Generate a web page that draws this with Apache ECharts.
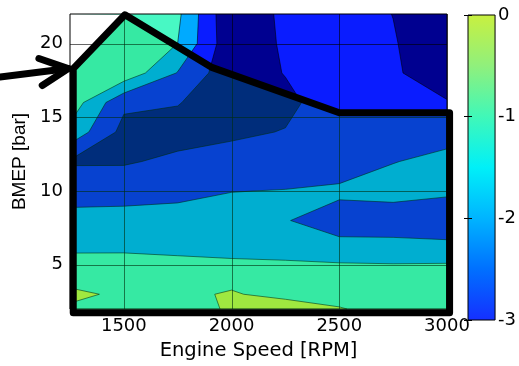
<!DOCTYPE html>
<html>
<head>
<meta charset="utf-8">
<script src="https://cdn.jsdelivr.net/npm/echarts@6/dist/echarts.min.js"></script>
<style>
  html, body { margin: 0; padding: 0; background: #fff; }
  #chart { width: 519px; height: 366px; }
</style>
</head>
<body>
<div id="chart"></div>
<script>
// Measurement grid: engine speed columns and BMEP rows
const rpmGrid  = [1250, 1500, 1750, 2000, 2250, 2500, 2750, 3000];
const bmepGrid = [2, 3, 4, 6, 8, 10, 12, 14, 16, 18, 20, 22];

// Mapped quantity at each speed column, one value per BMEP row
const z1250 = [-0.20,  0.30, -0.40, -1.07, -1.69, -2.39, -3.10, -1.30, -0.40, -0.40, -0.30, -0.30];
const z1500 = [-0.35, -0.25, -0.45, -1.06, -1.68, -2.34, -3.10, -3.30, -2.80, -0.30, -0.30, -0.30];
const z1750 = [-0.55, -0.22, -0.50, -1.12, -1.66, -2.23, -2.80, -3.37, -2.95, -2.05, -1.005, -0.80];
const z2000 = [ 0.15,  0.10, -0.257, -1.30, -1.576, -2.02, -2.55, -3.20, -3.60, -3.70, -3.75, -3.90];
const z2250 = [ 0.67, -0.346, -0.55, -1.24, -1.95, -1.97, -2.50, -2.95, -3.30, -2.95, -2.85, -2.75];
const z2500 = [ 0.05, -0.30, -0.20, -1.615, -2.47, -1.80, -2.60, -2.60, -2.30, -2.40, -2.40, -2.40];
const z2750 = [-0.30, -0.35, -0.20, -1.70, -2.40, -1.75, -2.02, -2.50, -2.60, -2.80, -2.90, -3.02];
const z3000 = [-0.35, -0.40, -0.15, -1.70, -2.56, -1.86, -1.85, -2.20, -2.90, -3.89, -3.99, -4.00];

// Contour levels and the fill colour of each band (lowest band first)
const contourLevels = [-3, -2, -1, 0];
const bandColors = ['#000090', '#0a1cff', '#00aaff', '#48f8c4', '#d2f642'];

// Axis tick labels
const xTickLabels = [1500, 2000, 2500, 3000];
const yTickLabels = [5, 10, 15, 20];

// Colour bar
const cbarTicks  = [-3, -2, -1, 0];
const cbarStops  = [-3, -2.5, -2, -1.5, -1, -0.5, 0];
const cbarColors = ['#1530ff', '#0070ff', '#00b4ff', '#00f0f8', '#40f8b8', '#90f07c', '#c8f040'];

// Full-load limit line (engine speed, BMEP)
const limitRpm  = [1265, 1265, 1505, 1905, 2500, 3012, 3012];
const limitBmep = [1.75, 18.3, 21.95, 18.4, 15.3, 15.3, 1.75];

const zColumns = [z1250, z1500, z1750, z2000, z2250, z2500, z2750, z3000];

// Part of a grid cell where the value is >= t (edges linearly interpolated)
function clipCell(pts, vals, t) {
  const out = [];
  for (let k = 0; k < 4; k++) {
    const n = (k + 1) % 4;
    const inA = vals[k] >= t, inB = vals[n] >= t;
    if (inA) out.push({ p: pts[k], kind: 'corner' });
    if (inA !== inB) {
      const f = (t - vals[k]) / (vals[n] - vals[k]);
      out.push({
        p: [pts[k][0] + f * (pts[n][0] - pts[k][0]), pts[k][1] + f * (pts[n][1] - pts[k][1])],
        kind: inA ? 'exit' : 'entry'
      });
    }
  }
  return out;
}

const fmt = v => v.toFixed(2);

function renderContours(params, api) {
  const P = (x, y) => api.coord([x, y]);
  const children = [];
  const nx = rpmGrid.length, ny = bmepGrid.length;
  const a = P(rpmGrid[0], bmepGrid[0]);
  const b = P(rpmGrid[nx - 1], bmepGrid[ny - 1]);
  children.push({
    type: 'rect',
    shape: { x: a[0], y: b[1], width: b[0] - a[0], height: a[1] - b[1] },
    style: { fill: bandColors[0] }
  });
  let lines = '';
  contourLevels.forEach((t, li) => {
    let d = '';
    for (let i = 0; i < nx - 1; i++) {
      for (let j = 0; j < ny - 1; j++) {
        const pts = [
          P(rpmGrid[i], bmepGrid[j]), P(rpmGrid[i + 1], bmepGrid[j]),
          P(rpmGrid[i + 1], bmepGrid[j + 1]), P(rpmGrid[i], bmepGrid[j + 1])
        ];
        const vals = [zColumns[i][j], zColumns[i + 1][j], zColumns[i + 1][j + 1], zColumns[i][j + 1]];
        const poly = clipCell(pts, vals, t);
        if (poly.length >= 3) {
          d += 'M' + poly.map(q => fmt(q.p[0]) + ' ' + fmt(q.p[1])).join('L') + 'Z';
        }
        for (let m = 0; m < poly.length; m++) {
          if (poly[m].kind === 'exit') {
            const q = poly[(m + 1) % poly.length];
            lines += 'M' + fmt(poly[m].p[0]) + ' ' + fmt(poly[m].p[1]) + 'L' + fmt(q.p[0]) + ' ' + fmt(q.p[1]);
          }
        }
      }
    }
    if (d) children.push({ type: 'path', shape: { pathData: d }, style: { fill: bandColors[li + 1] } });
  });
  if (lines) {
    children.push({ type: 'path', shape: { pathData: lines },
      style: { fill: null, stroke: 'rgba(0,0,0,0.7)', lineWidth: 0.8 } });
  }
  // no data above the full-load line on the low-speed side
  const v1 = P(limitRpm[1], limitBmep[1]), v2 = P(limitRpm[2], limitBmep[2]);
  children.push({
    type: 'polygon',
    shape: { points: [P(rpmGrid[0], bmepGrid[ny - 1]), P(rpmGrid[0], limitBmep[1]), v1, v2] },
    style: { fill: '#ffffff' }
  });
  return { type: 'group', children };
}

function renderGridLines(params, api) {
  const P = (x, y) => api.coord([x, y]);
  const y0 = bmepGrid[0], y1 = bmepGrid[bmepGrid.length - 1];
  const x0 = rpmGrid[0], x1 = rpmGrid[rpmGrid.length - 1];
  const children = [];
  xTickLabels.forEach(v => {
    const p = P(v, y0), q = P(v, y1);
    children.push({ type: 'line', shape: { x1: Math.round(p[0]) + 0.5, y1: p[1], x2: Math.round(q[0]) + 0.5, y2: q[1] },
      style: { stroke: 'rgba(0,0,0,0.6)', lineWidth: 1 } });
  });
  yTickLabels.forEach(v => {
    const p = P(x0, v), q = P(x1, v);
    children.push({ type: 'line', shape: { x1: p[0], y1: Math.round(p[1]) + 0.5, x2: q[0], y2: Math.round(q[1]) + 0.5 },
      style: { stroke: 'rgba(0,0,0,0.6)', lineWidth: 1 } });
  });
  return { type: 'group', children };
}

function renderLimit(params, api) {
  const pts = limitRpm.map((r, k) => api.coord([r, limitBmep[k]]));
  const children = [];
  children.push({ type: 'polygon', shape: { points: pts },
    style: { fill: 'rgba(0,187,59,0.24)', stroke: null } });
  children.push({ type: 'polygon', shape: { points: pts },
    style: { fill: null, stroke: '#000', lineWidth: 7, lineJoin: 'round' } });
  // arrow pointing at the start of the full-load line
  const tip = [pts[1][0] - 5, pts[1][1]];
  const ang = -7 * Math.PI / 180;
  const len = tip[0] / Math.cos(ang);
  const tail = [tip[0] - len * Math.cos(ang), tip[1] - len * Math.sin(ang)];
  const back = Math.PI + ang;
  const armLen = 31, spread = 26 * Math.PI / 180;
  const armA = [tip[0] + armLen * Math.cos(back + spread), tip[1] + armLen * Math.sin(back + spread)];
  const armB = [tip[0] + armLen * Math.cos(back - spread), tip[1] + armLen * Math.sin(back - spread)];
  const arrowStyle = { fill: null, stroke: '#000', lineWidth: 7, lineCap: 'round', lineJoin: 'round' };
  children.push({ type: 'polyline', shape: { points: [tail, tip] }, style: arrowStyle });
  children.push({ type: 'polyline', shape: { points: [armA, tip, armB] }, style: arrowStyle });
  return { type: 'group', children };
}

function renderColorbar(params, api) {
  const top = api.coord([0, 0]);
  const bot = api.coord([1, -3]);
  const stops = cbarStops.map((v, k) => ({ offset: (0 - v) / 3, color: cbarColors[k] }))
    .sort((p, q) => p.offset - q.offset);
  return {
    type: 'rect',
    shape: { x: top[0], y: top[1], width: bot[0] - top[0], height: bot[1] - top[1] },
    style: { fill: new echarts.graphic.LinearGradient(0, 0, 0, 1, stops) }
  };
}

const tickFont = { fontFamily: 'DejaVu Sans', fontSize: 18, color: '#000' };

const chart = echarts.init(document.getElementById('chart'), null, { renderer: 'canvas' });
chart.setOption({
  animation: false,
  backgroundColor: '#fff',
  grid: [
    { left: 70, right: 72, top: 14, bottom: 48, show: true, borderColor: '#000', borderWidth: 1, z: 4 },
    { left: 468, top: 15, width: 28, height: 305, show: true, borderColor: '#000', borderWidth: 1, z: 4 }
  ],
  xAxis: [
    {
      type: 'value', gridIndex: 0, min: 1250, max: 3000, interval: 250,
      axisLine: { show: false }, axisTick: { show: false }, splitLine: { show: false },
      axisLabel: Object.assign({ margin: 8, formatter: v => xTickLabels.includes(v) ? String(v) : '' }, tickFont),
      name: 'Engine Speed [RPM]', nameLocation: 'middle', nameGap: 32,
      nameTextStyle: { fontFamily: 'DejaVu Sans', fontSize: 19.5, color: '#000' }
    },
    { type: 'value', gridIndex: 1, min: 0, max: 1, show: false }
  ],
  yAxis: [
    {
      type: 'value', gridIndex: 0, min: 2, max: 22, interval: 1,
      axisLine: { show: false }, axisTick: { show: false }, splitLine: { show: false },
      axisLabel: Object.assign({ margin: 7, formatter: v => yTickLabels.includes(v) ? String(v) : '' }, tickFont),
      name: 'BMEP [bar]', nameLocation: 'middle', nameGap: 30,
      nameTextStyle: { fontFamily: 'Liberation Sans', fontSize: 19, color: '#000' }
    },
    {
      type: 'value', gridIndex: 1, position: 'right', min: -3, max: 0, interval: 1,
      axisLine: { show: false }, splitLine: { show: false },
      axisTick: { show: true, inside: true, length: 4, lineStyle: { color: '#000' } },
      axisLabel: Object.assign({ margin: 3, formatter: v => cbarTicks.includes(v) ? String(v) : '' }, tickFont),
      z: 5
    },
    {
      type: 'value', gridIndex: 1, position: 'left', min: -3, max: 0, interval: 1,
      axisLine: { show: false }, splitLine: { show: false }, axisLabel: { show: false },
      axisTick: { show: true, inside: true, length: 4, lineStyle: { color: '#000' } },
      z: 5
    }
  ],
  series: [
    { type: 'custom', xAxisIndex: 0, yAxisIndex: 0, z: 1, silent: true,
      data: [[rpmGrid[0], bmepGrid[0]]], renderItem: renderContours },
    { type: 'custom', xAxisIndex: 0, yAxisIndex: 0, z: 3, silent: true,
      data: [[rpmGrid[0], bmepGrid[0]]], renderItem: renderGridLines },
    { type: 'custom', xAxisIndex: 0, yAxisIndex: 0, z: 6, silent: true, clip: false,
      data: [[rpmGrid[0], bmepGrid[0]]], renderItem: renderLimit },
    { type: 'custom', xAxisIndex: 1, yAxisIndex: 1, z: 1, silent: true,
      data: [[0, 0]], renderItem: renderColorbar }
  ]
});
</script>
</body>
</html>
